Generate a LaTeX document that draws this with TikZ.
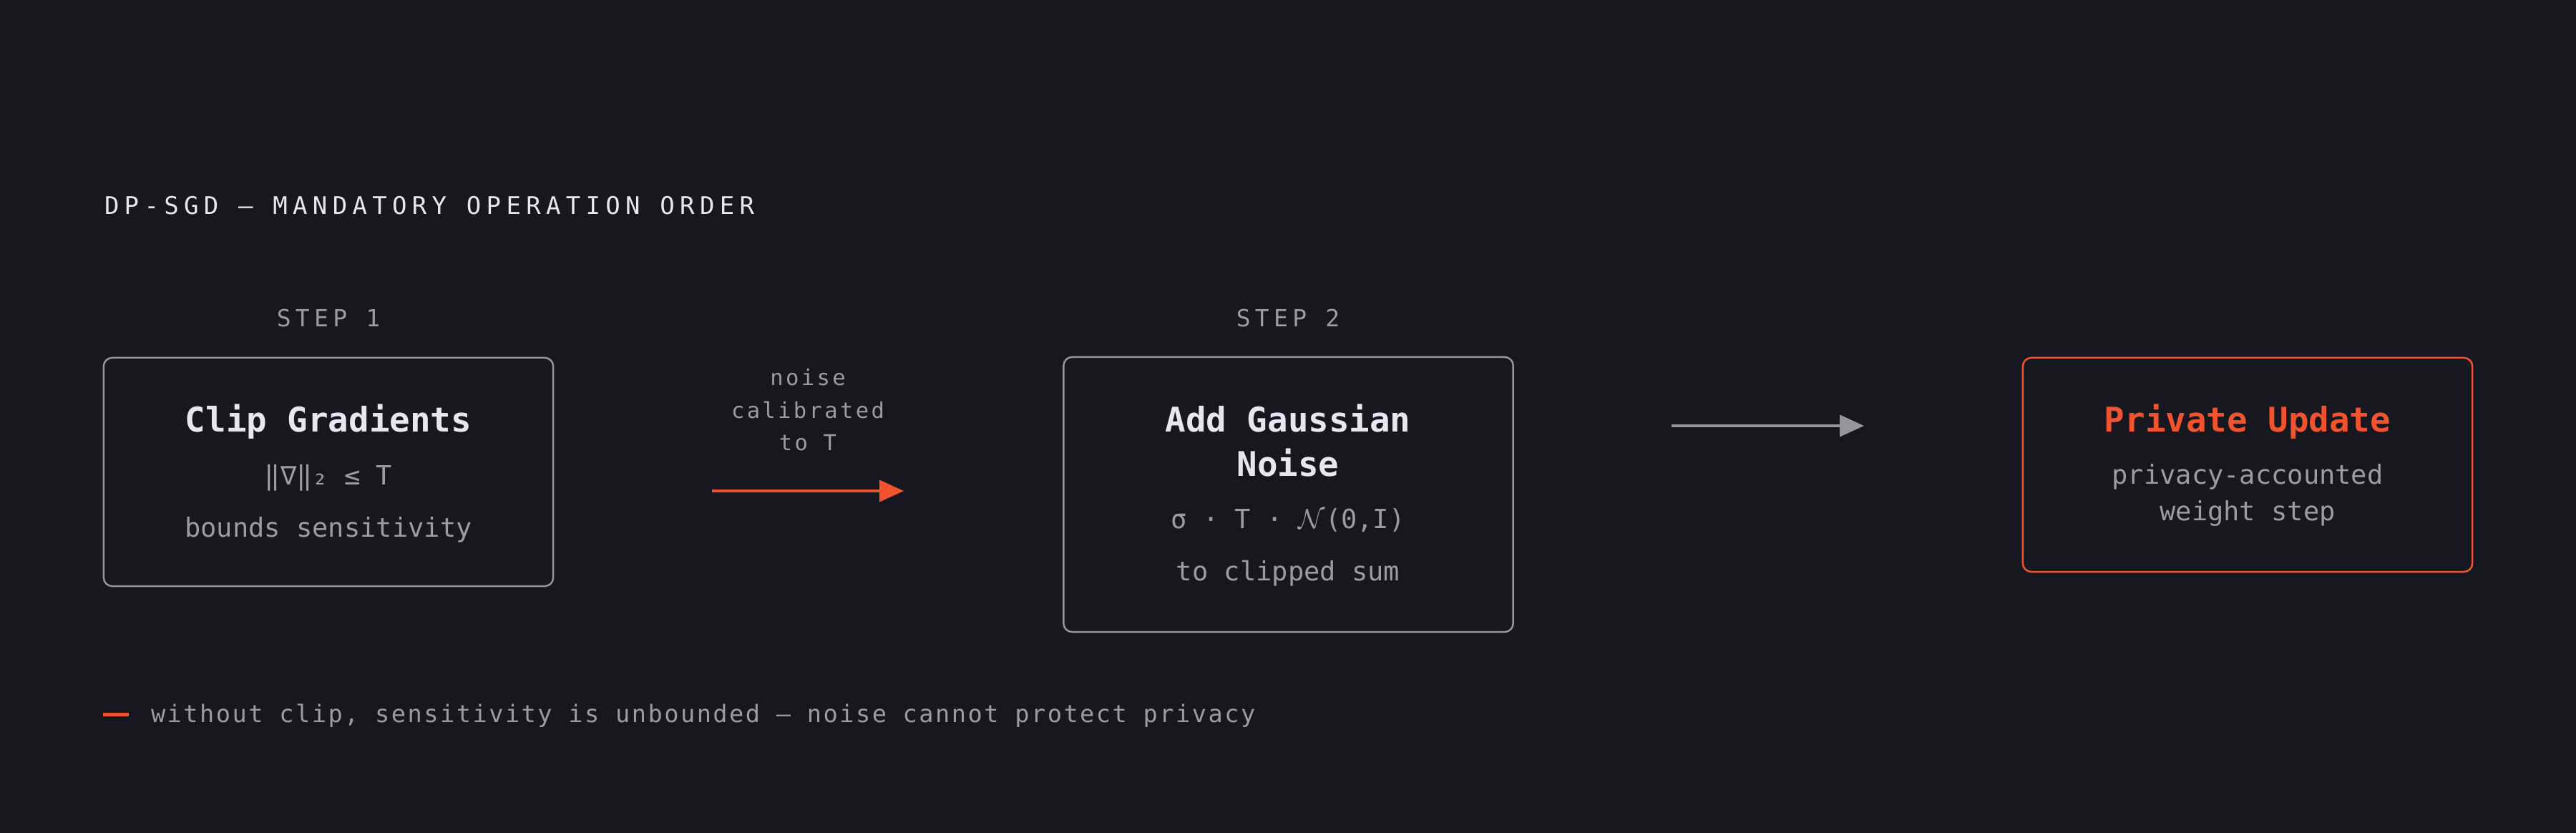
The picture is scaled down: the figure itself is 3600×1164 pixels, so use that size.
\documentclass[tikz,border=0pt]{standalone}
\usepackage{fontspec}
\usetikzlibrary{arrows.meta}
\newfontfamily\monoR{DejaVu Sans Mono}
\newfontfamily\monoWide{DejaVu Sans Mono}[LetterSpace=19]
\newfontfamily\monoHdr{DejaVu Sans Mono}[LetterSpace=21.5]
\newfontfamily\monoLbl{DejaVu Sans Mono}[LetterSpace=11]
\newfontfamily\monoFoot{DejaVu Sans Mono}[LetterSpace=7.4]
\definecolor{bg}{RGB}{23,23,31}
\definecolor{fgw}{RGB}{232,230,242}
\definecolor{fgg}{RGB}{156,154,165}
\definecolor{acc}{RGB}{240,83,45}
\definecolor{edge}{RGB}{150,148,158}
\tikzset{
  box/.style={draw=edge, line width=0.7pt, rounded corners=0.12cm, minimum width=6.28cm, inner sep=0pt},
  txt/.style={anchor=base, inner sep=0pt, outer sep=0pt},
  ttl/.style={txt, font=\monoR\bfseries\fontsize{13.5}{16}\selectfont, text=fgw},
  sub/.style={txt, font=\monoR\fontsize{10.53}{13}\selectfont, text=fgg},
  hdr/.style={txt, anchor=base west, font=\monoHdr\fontsize{9.67}{12}\selectfont, text=fgw},
  stp/.style={txt, font=\monoWide\fontsize{9.39}{12}\selectfont, text=fgg},
  lbl/.style={txt, font=\monoLbl\fontsize{8.68}{11}\selectfont, text=fgg},
  foot/.style={txt, anchor=base west, font=\monoFoot\fontsize{9.56}{12}\selectfont, text=fgg},
  flow/.style={line width=1.14pt, -{Triangle[length=0.34cm,width=0.30cm]}}
}
\begin{document}
\begin{tikzpicture}[x=0.01cm, y=-0.01cm]
\fill[bg] (0,0) rectangle (3600,1164);
\useasboundingbox (0,0) rectangle (3600,1164);

\node[hdr] (title) at (146,300) {DP-SGD — MANDATORY OPERATION ORDER};

% step labels
\node[stp] (s1) at (459,456) {STEP 1};
\node[stp] (s2) at (1800,456) {STEP 2};

% boxes
\node[box, minimum height=3.19cm] (b1) at (459,659.5) {};
\node[box, minimum height=3.84cm] (b2) at (1800.5,691) {};
\node[box, draw=acc, minimum height=2.99cm] (b3) at (3141,649.5) {};

% box 1 text
\node[ttl] (b1t) at (459,603) {Clip Gradients};
\node[sub] (b1f) at (459,677) {‖∇‖₂ ≤ T};
\node[sub] (b1s) at (459,750) {bounds sensitivity};

% box 2 text
\node[ttl] (b2t1) at (1800,603) {Add Gaussian};
\node[ttl] (b2t2) at (1800,665) {Noise};
\node[sub] (b2f) at (1800,738) {σ · T · {\normalfont$\mathcal{N}$}(0,I)};
\node[sub] (b2s) at (1800,811) {to clipped sum};

% box 3 text
\node[ttl, text=acc] (b3t) at (3141,603) {Private Update};
\node[sub] (b3s1) at (3141,676) {privacy-accounted};
\node[sub] (b3s2) at (3141,727) {weight step};

% arrow 1
\node[lbl] (l1) at (1129,538) {noise};
\node[lbl] (l2) at (1129,584) {calibrated};
\node[lbl] (l3) at (1129,629) {to T};
\coordinate (a1s) at (995,686);
\coordinate (a1e) at (1263,686);
\draw[flow, acc] (a1s) -- (a1e);

% arrow 2
\coordinate (a2s) at (2336,595);
\coordinate (a2e) at (2605,595);
\draw[flow, edge] (a2s) -- (a2e);

% footer
\node[fill=acc, inner sep=0pt, minimum width=0.36cm, minimum height=0.05cm] (dash) at (162,998) {};
\node[foot] (note) at (211,1009) {without clip, sensitivity is unbounded — noise cannot protect privacy};
\end{tikzpicture}
\end{document}
